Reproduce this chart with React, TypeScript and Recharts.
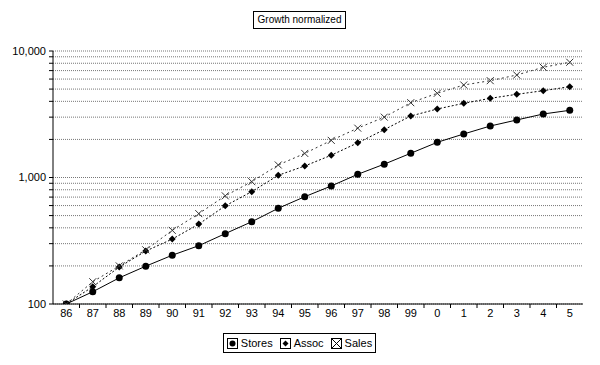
import { LineChart, Line, XAxis, YAxis, CartesianGrid } from "recharts";

const YEARS = ["86", "87", "88", "89", "90", "91", "92", "93", "94", "95", "96", "97", "98", "99", "0", "1", "2", "3", "4", "5"];
const STORES = [100, 125, 161, 199, 243, 289, 360, 447, 571, 705, 857, 1060, 1275, 1554, 1897, 2208, 2553, 2849, 3177, 3398];
const ASSOC = [100, 137, 196, 262, 326, 428, 597, 773, 1041, 1233, 1500, 1880, 2390, 3063, 3480, 3858, 4227, 4546, 4856, 5223];
const SALES = [100, 150, 200, 268, 382, 518, 716, 927, 1256, 1550, 1965, 2455, 3000, 3903, 4630, 5386, 5826, 6460, 7436, 8147];
const Y_TICKS = [100, 200, 300, 400, 500, 600, 700, 800, 900, 1000, 2000, 3000, 4000, 5000, 6000, 7000, 8000, 9000, 10000];
const Y_LABELS = [100, 1000, 10000];

const data = YEARS.map((year, i) => ({
  year,
  stores: STORES[i],
  assoc: ASSOC[i],
  sales: SALES[i],
}));

const FONT = '"Liberation Sans", Arial, sans-serif';
const HALF_BAND = 13.25;

function XTick(props: any) {
  const { x, y, payload, index } = props;
  return (
    <g>
      {index < YEARS.length - 1 && (
        <line x1={x + HALF_BAND} x2={x + HALF_BAND} y1={y} y2={y + 4} stroke="#000" />
      )}
      <text x={x} y={y + 13} textAnchor="middle" fontSize={11} fontFamily={FONT} fill="#000">
        {payload.value}
      </text>
    </g>
  );
}

function CircleDot(props: any) {
  const { cx, cy, index } = props;
  return <circle key={`c-${index}`} cx={cx} cy={cy} r={3.5} fill="#000" />;
}

function DiamondDot(props: any) {
  const { cx, cy, index } = props;
  const s = 3.5;
  return (
    <polygon
      key={`d-${index}`}
      points={`${cx},${cy - s} ${cx + s},${cy} ${cx},${cy + s} ${cx - s},${cy}`}
      fill="#000"
    />
  );
}

function CrossDot(props: any) {
  const { cx, cy, index } = props;
  const s = 3.5;
  return (
    <g key={`x-${index}`}>
      <line x1={cx - s} y1={cy - s} x2={cx + s} y2={cy + s} stroke="#333" strokeWidth={1} />
      <line x1={cx - s} y1={cy + s} x2={cx + s} y2={cy - s} stroke="#333" strokeWidth={1} />
    </g>
  );
}

function LegendIcon({ kind }: { kind: string }) {
  return (
    <svg width={11} height={11} style={{ display: "block" }}>
      <rect x={0.5} y={0.5} width={10} height={10} fill="#fff" stroke="#000" />
      {kind === "circle" && <circle cx={5.5} cy={5.5} r={3} fill="#000" />}
      {kind === "diamond" && <polygon points="5.5,2.5 8.5,5.5 5.5,8.5 2.5,5.5" fill="#000" />}
      {kind === "cross" && (
        <g stroke="#000">
          <line x1={1} y1={1} x2={10} y2={10} />
          <line x1={1} y1={10} x2={10} y2={1} />
        </g>
      )}
    </svg>
  );
}

const LEGEND = [
  { name: "Stores", kind: "circle" },
  { name: "Assoc", kind: "diamond" },
  { name: "Sales", kind: "cross" },
];

export default function App() {
  return (
    <div style={{ position: "absolute", left: 0, top: 0, width: 600, height: 365, background: "#fff", fontFamily: FONT }}>
      <div
        style={{
          position: "absolute",
          left: 253,
          top: 11,
          width: 91,
          height: 16,
          border: "1px solid #000",
          fontSize: 10,
          lineHeight: "16px",
          textAlign: "center",
          color: "#000",
        }}
      >
        Growth normalized
      </div>

      <LineChart width={600} height={365} data={data} margin={{ top: 51, right: 17, left: 0, bottom: 0 }}>
        <CartesianGrid vertical={false} stroke="#777" strokeDasharray="1 1" />
        <XAxis
          dataKey="year"
          height={61}
          padding={{ left: HALF_BAND, right: HALF_BAND }}
          axisLine={{ stroke: "#000" }}
          tickLine={false}
          tickSize={0}
          tickMargin={0}
          interval={0}
          tick={<XTick />}
        />
        <YAxis
          width={53}
          scale="log"
          type="number"
          domain={[100, 10000]}
          allowDataOverflow
          ticks={Y_TICKS}
          interval={0}
          axisLine={{ stroke: "#000" }}
          tickLine={{ stroke: "#000" }}
          tickSize={4}
          tickMargin={3}
          tick={{ fontSize: 11, fill: "#000", fontFamily: FONT }}
          tickFormatter={(v: number) => (Y_LABELS.includes(v) ? v.toLocaleString("en-US") : "")}
        />
        <Line type="linear" dataKey="stores" stroke="#000" strokeWidth={1} dot={CircleDot} isAnimationActive={false} />
        <Line type="linear" dataKey="assoc" stroke="#000" strokeWidth={1} strokeDasharray="2 2" dot={DiamondDot} isAnimationActive={false} />
        <Line type="linear" dataKey="sales" stroke="#333" strokeWidth={1} strokeDasharray="2 3" dot={CrossDot} isAnimationActive={false} />
      </LineChart>

      <div
        style={{
          position: "absolute",
          left: 223,
          top: 333,
          width: 151,
          height: 18,
          border: "1px solid #000",
          display: "flex",
          alignItems: "center",
          justifyContent: "center",
          gap: 7,
          fontSize: 11,
          color: "#000",
        }}
      >
        {LEGEND.map((item) => (
          <div key={item.name} style={{ display: "flex", alignItems: "center", gap: 3 }}>
            <LegendIcon kind={item.kind} />
            <span>{item.name}</span>
          </div>
        ))}
      </div>
    </div>
  );
}
